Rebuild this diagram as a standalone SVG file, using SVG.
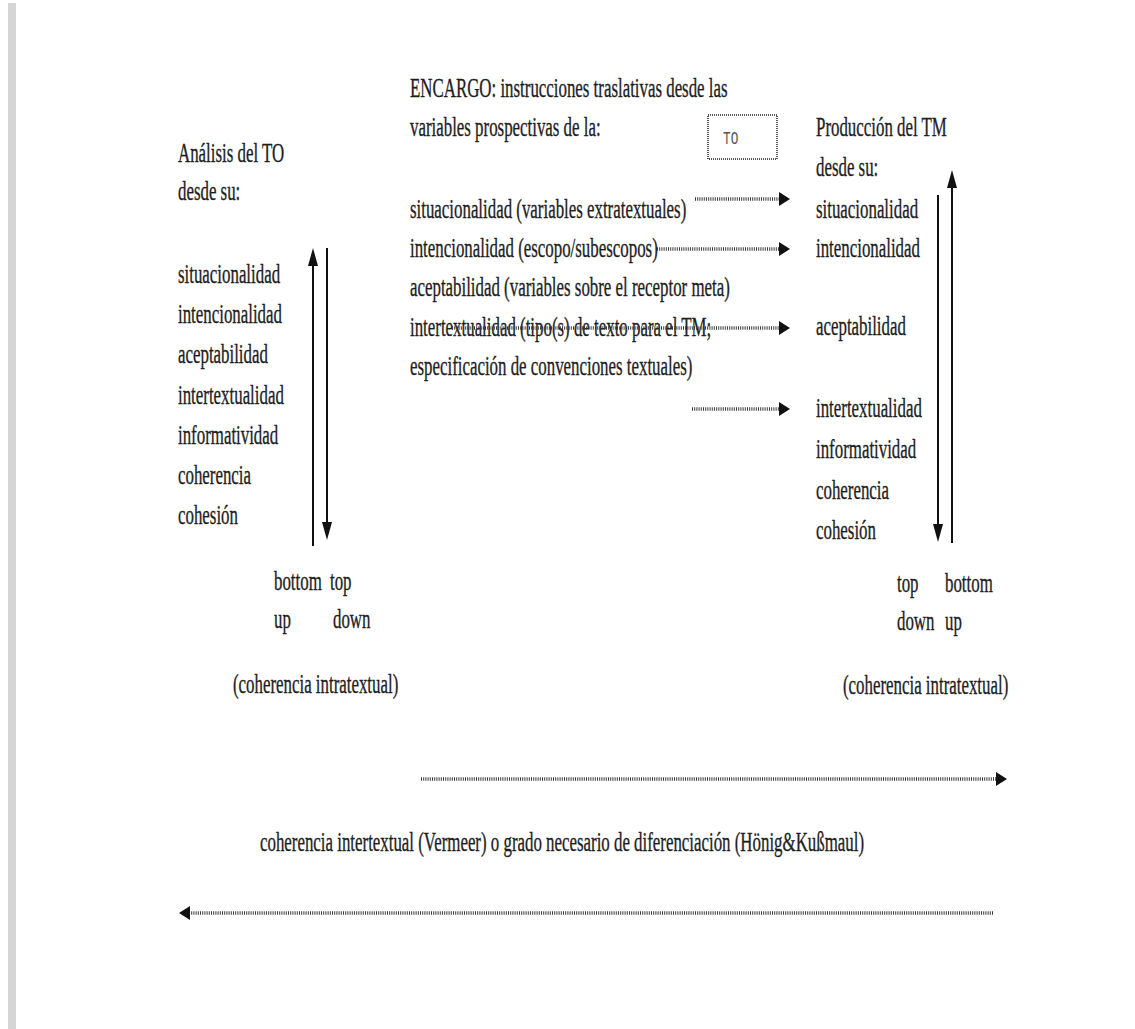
<svg xmlns="http://www.w3.org/2000/svg" width="1135" height="1029" viewBox="0 0 1135 1029">
<style>
.t{font-family:"Liberation Serif","Times New Roman",serif;font-size:27px;fill:#1e1e1e;stroke:#1e1e1e;stroke-width:0.35}
.m{font-family:"Liberation Mono","Courier New",monospace;font-size:19px;fill:#555}
.solid{stroke:#111;stroke-width:2;fill:none}
.dot{stroke:#3a3a3a;stroke-width:3.5;stroke-dasharray:1 1.2;fill:none}
</style>
<defs>
<marker id="ah" markerUnits="userSpaceOnUse" markerWidth="20" markerHeight="12" refX="8" refY="5" orient="auto"><path d="M0,0 L18,5 L0,10 z" fill="#111"/></marker>
<marker id="dh" markerUnits="userSpaceOnUse" markerWidth="12" markerHeight="16" refX="0" refY="7" orient="auto"><path d="M0,0 L11,7 L0,14 z" fill="#111"/></marker>
</defs>
<rect width="1135" height="1029" fill="#ffffff"/>
<rect x="8" y="3" width="8" height="1026" fill="#d5d5d5"/>

<g id="analisis">
<text class="t" transform="translate(178,162) scale(0.625,1)">Análisis del TO</text>
<text class="t" transform="translate(178,200) scale(0.625,1)">desde su:</text>
<text class="t" transform="translate(178,283) scale(0.625,1)">situacionalidad</text>
<text class="t" transform="translate(178,323) scale(0.625,1)">intencionalidad</text>
<text class="t" transform="translate(178,363) scale(0.625,1)">aceptabilidad</text>
<text class="t" transform="translate(178,404) scale(0.625,1)">intertextualidad</text>
<text class="t" transform="translate(178,444) scale(0.625,1)">informatividad</text>
<text class="t" transform="translate(178,484) scale(0.625,1)">coherencia</text>
<text class="t" transform="translate(178,524) scale(0.625,1)">cohesión</text>
</g>

<g id="analisis-labels">
<text class="t" transform="translate(274,590) scale(0.625,1)">bottom</text>
<text class="t" transform="translate(330,590) scale(0.625,1)">top</text>
<text class="t" transform="translate(274,628) scale(0.625,1)">up</text>
<text class="t" transform="translate(333,628) scale(0.625,1)">down</text>
<text class="t" transform="translate(233,693) scale(0.625,1)">(coherencia intratextual)</text>
</g>

<g id="encargo">
<text class="t" transform="translate(410,97) scale(0.625,1)">ENCARGO: instrucciones traslativas desde las</text>
<text class="t" transform="translate(410,136) scale(0.625,1)">variables prospectivas de la:</text>
<text class="t" transform="translate(410,218) scale(0.625,1)">situacionalidad (variables extratextuales)</text>
<text class="t" transform="translate(410,257) scale(0.625,1)">intencionalidad (escopo/subescopos)</text>
<text class="t" transform="translate(410,296) scale(0.625,1)">aceptabilidad (variables sobre el receptor meta)</text>
<text class="t" transform="translate(410,336) scale(0.625,1)">intertextualidad (tipo(s) de texto para el TM;</text>
<text class="t" transform="translate(410,375) scale(0.625,1)">especificación de convenciones textuales)</text>
</g>

<g id="to-box">
<rect x="708" y="115" width="69" height="44" fill="none" stroke="#555" stroke-width="2" stroke-dasharray="1 1"/>
<text class="m" transform="translate(723,144) scale(0.67,1)">TO</text>
</g>

<g id="produccion">
<text class="t" transform="translate(816,136) scale(0.625,1)">Producción del TM</text>
<text class="t" transform="translate(816,176) scale(0.625,1)">desde su:</text>
<text class="t" transform="translate(816,218) scale(0.625,1)">situacionalidad</text>
<text class="t" transform="translate(816,257) scale(0.625,1)">intencionalidad</text>
<text class="t" transform="translate(816,335) scale(0.625,1)">aceptabilidad</text>
<text class="t" transform="translate(816,417) scale(0.625,1)">intertextualidad</text>
<text class="t" transform="translate(816,458) scale(0.625,1)">informatividad</text>
<text class="t" transform="translate(816,499) scale(0.625,1)">coherencia</text>
<text class="t" transform="translate(816,539) scale(0.625,1)">cohesión</text>
</g>

<g id="produccion-labels">
<text class="t" transform="translate(897,592) scale(0.625,1)">top</text>
<text class="t" transform="translate(945,592) scale(0.625,1)">bottom</text>
<text class="t" transform="translate(897,630) scale(0.625,1)">down</text>
<text class="t" transform="translate(945,630) scale(0.625,1)">up</text>
<text class="t" transform="translate(843,694) scale(0.625,1)">(coherencia intratextual)</text>
</g>

<g id="intertextual">
<text class="t" transform="translate(260,851) scale(0.625,1)">coherencia intertextual (Vermeer) o grado necesario de diferenciación (Hönig&amp;Kußmaul)</text>
</g>

<g id="connectors">
<line class="solid" x1="313" y1="546" x2="313" y2="258" marker-end="url(#ah)"/>
<line class="solid" x1="327" y1="248" x2="327" y2="530" marker-end="url(#ah)"/>
<line class="solid" x1="938" y1="195" x2="938" y2="532" marker-end="url(#ah)"/>
<line class="solid" x1="952" y1="543" x2="952" y2="180" marker-end="url(#ah)"/>
<line class="dot" x1="695" y1="199" x2="779" y2="199" marker-end="url(#dh)"/>
<line class="dot" x1="657" y1="249" x2="779" y2="249" marker-end="url(#dh)"/>
<line class="dot" x1="452" y1="328" x2="779" y2="328" marker-end="url(#dh)"/>
<line class="dot" x1="692" y1="409" x2="779" y2="409" marker-end="url(#dh)"/>
<line class="dot" x1="421" y1="779" x2="996" y2="779" marker-end="url(#dh)"/>
<line class="dot" x1="993" y1="913" x2="190" y2="913" marker-end="url(#dh)"/>
</g>
</svg>
